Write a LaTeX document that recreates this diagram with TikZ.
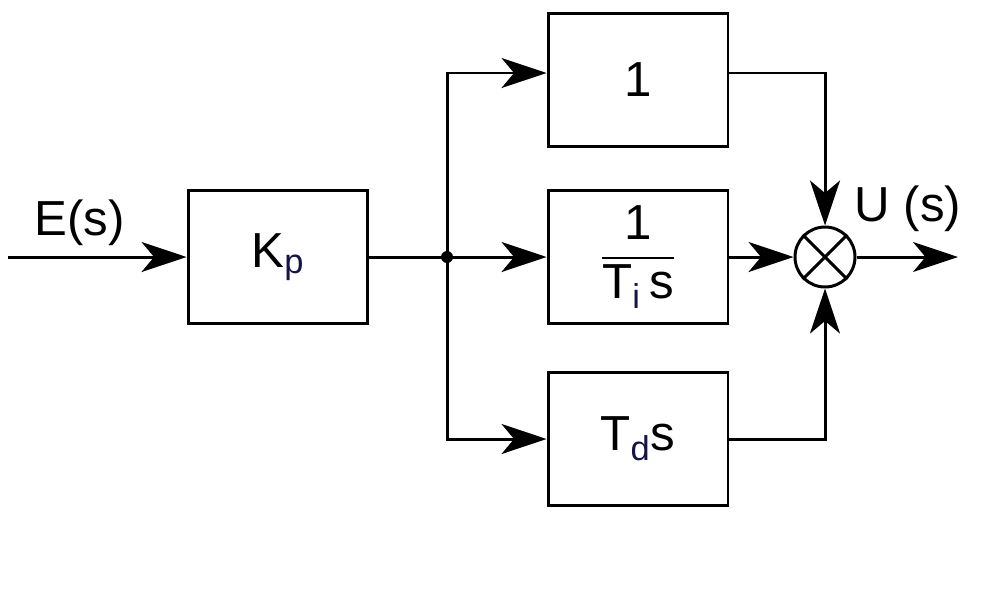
\documentclass[tikz,border=0pt]{standalone}
\usepackage{amsmath}
\usepackage{fontspec}
\setmainfont{Liberation Sans}
\usetikzlibrary{arrows.meta, calc}
\definecolor{subblue}{RGB}{20,20,70}
\tikzset{
    block/.style={rectangle, draw, line width=1.7pt, minimum width=3.6cm, minimum height=2.66cm, font=\fontsize{28}{33}\selectfont},
    sumnode/.style={circle, draw, line width=1.7pt, minimum size=1.2cm, inner sep=0pt},
    arrow/.style={-{Stealth[length=9mm, width=6mm, inset=2.5mm]}, line width=1.7pt},
    lbl/.style={font=\fontsize{28}{33}\selectfont},
}
\newcommand{\subidx}[1]{\textsubscript{\color{subblue}#1}}
\begin{document}
\begin{tikzpicture}[x=0.02cm, y=-0.02cm]
\useasboundingbox (0,0) rectangle (993,606);

% blocks
\node[block] (kp) at (278,257) {K\subidx{p}};
\node[block] (prop) at (638,80) {1};
\node[block] (int) at (638,257) {$\dfrac{\text{1}}{\text{T\subidx{i}\,s}}$};
\node[block] (der) at (638,439) {T\subidx{d}s};
\node[sumnode] (sum) at (825,257) {};
\draw[line width=1.7pt] (sum.north west) -- (sum.south east) (sum.north east) -- (sum.south west);

% input and output
\coordinate (in) at (8,257);
\coordinate (out) at (958,257);
\draw[arrow] (in) -- (kp) node[lbl, pos=0.4, above=2pt] {E(s)};
\draw[arrow] (sum) -- (out);
\node[lbl, anchor=south] (ulbl) at (908,238) {U (s)};

% branches
\coordinate (split) at (447,257);
\fill (split) circle (6);
\coordinate (pin) at ($(prop.west)+(0,-7)$);
\coordinate (pout) at ($(prop.east)+(0,-7)$);
\draw[line width=1.7pt] (kp) -- (split);
\draw[arrow] (split) |- (pin);
\draw[arrow] (split) -- (int);
\draw[arrow] (split) |- (der.west);

% to summing point
\draw[arrow] (pout) -| (sum.north);
\draw[arrow] (int) -- (sum);
\draw[arrow] (der.east) -| (sum.south);
\end{tikzpicture}
\end{document}
